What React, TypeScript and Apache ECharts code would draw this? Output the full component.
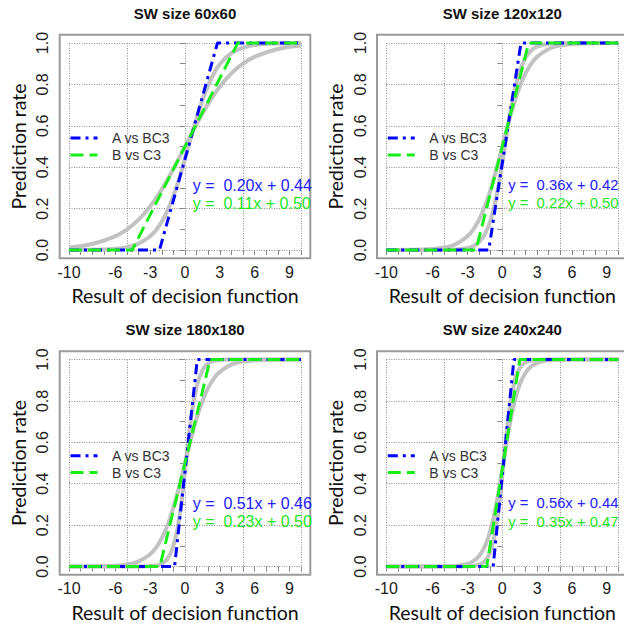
import React, { useEffect, useRef } from "react";
import * as echarts from "echarts";

// ---- data ----
const titles = ["SW size 60x60", "SW size 120x120", "SW size 180x180", "SW size 240x240"];
const seriesNames = ["A vs BC3", "B vs C3"];
const blueEq = ["y =  0.20x + 0.44", "y =  0.36x + 0.42", "y =  0.51x + 0.46", "y =  0.56x + 0.44"];
const greenEq = ["y =  0.11x + 0.50", "y =  0.22x + 0.50", "y =  0.23x + 0.50", "y =  0.35x + 0.47"];
const xTickLabels = [-10, -6, -3, 0, 3, 6, 9];
const yTickLabels = [0, 0.2, 0.4, 0.6, 0.8, 1.0];

// x positions of the gray curve readings
const xs = [-10, -8, -6, -5, -4, -3, -2.5, -2, -1.5, -1, -0.5, 0, 0.5, 1, 1.5, 2, 2.5, 3, 4, 5, 6, 8, 10];
// steeper gray curve (A vs BC3) per panel
const grayA1 = [0.0, 0.001, 0.006, 0.014, 0.031, 0.067, 0.096, 0.137, 0.192, 0.261, 0.345, 0.44, 0.54, 0.636, 0.723, 0.796, 0.853, 0.897, 0.951, 0.977, 0.99, 0.998, 1.0];
const grayA2 = [0, 0, 0.0, 0.001, 0.002, 0.01, 0.019, 0.039, 0.077, 0.147, 0.261, 0.421, 0.599, 0.754, 0.863, 0.928, 0.964, 0.982, 0.996, 0.999, 1, 1, 1];
const grayA3 = [0, 0, 0, 0, 0.0, 0.002, 0.005, 0.014, 0.038, 0.1, 0.235, 0.46, 0.703, 0.868, 0.948, 0.981, 0.993, 0.997, 1, 1, 1, 1, 1];
const grayA4 = [0, 0, 0, 0, 0, 0.001, 0.003, 0.009, 0.027, 0.077, 0.204, 0.44, 0.707, 0.881, 0.958, 0.986, 0.995, 0.998, 1, 1, 1, 1, 1];
// flatter gray curve (B vs C3) per panel
const grayB1 = [0.012, 0.029, 0.067, 0.1, 0.147, 0.211, 0.25, 0.293, 0.341, 0.392, 0.445, 0.5, 0.555, 0.608, 0.659, 0.707, 0.75, 0.789, 0.853, 0.9, 0.933, 0.971, 0.988];
const grayB2 = [0.0, 0.001, 0.005, 0.012, 0.029, 0.067, 0.1, 0.147, 0.211, 0.293, 0.392, 0.5, 0.608, 0.707, 0.789, 0.853, 0.9, 0.933, 0.971, 0.988, 0.995, 0.999, 1.0];
const grayB3 = [0.0, 0.001, 0.004, 0.01, 0.025, 0.06, 0.091, 0.137, 0.201, 0.285, 0.387, 0.5, 0.613, 0.715, 0.799, 0.863, 0.909, 0.94, 0.975, 0.99, 0.996, 0.999, 1.0];
const grayB4 = [0, 0, 0.0, 0.001, 0.003, 0.013, 0.026, 0.051, 0.098, 0.179, 0.306, 0.47, 0.641, 0.782, 0.879, 0.936, 0.967, 0.983, 0.996, 0.999, 1, 1, 1];
const grayA = [grayA1, grayA2, grayA3, grayA4];
const grayB = [grayB1, grayB2, grayB3, grayB4];
// x where the clipped linear fits leave 0 and reach 1
const blueBreaks = [[-2.2, 2.8], [-1.17, 1.61], [-0.9, 1.06], [-0.79, 1.0]];
const greenBreaks = [[-4.55, 4.55], [-2.27, 2.27], [-2.17, 2.17], [-1.34, 1.51]];
const xMin = -10;
const xMax = 10;

// ---- layout / style ----
const PLOT_W = 232;
const PLOT_H = 207;
const PAD_X = 9.3;
const PAD_Y = 8.3;
const panels = [
  { gl: 69, gt: 43, titleTop: 6, eqX: 192.7, eqSize: 16, eqY: [185, 203], legY: [138, 155] },
  { gl: 386.3, gt: 43, titleTop: 6, eqX: 508.2, eqSize: 14.8, eqY: [185, 203], legY: [138, 155] },
  { gl: 69, gt: 359.5, titleTop: 322, eqX: 192.7, eqSize: 16, eqY: [503, 521.5], legY: [455.7, 472.5] },
  { gl: 386.3, gt: 359.5, titleTop: 322, eqX: 508.2, eqSize: 14.8, eqY: [503, 521.5], legY: [455.7, 472.5] },
];
const SANS = '"Liberation Sans", Arial, Helvetica, sans-serif';
const LABEL_FONT = 'Lato, "Noto Sans", sans-serif';
const BLUE = "#0000ff";
const GREEN = "#1aee1a";
const GRAY = "#c2c2c2";
const GRID = "#8c8c8c";
const BLUE_DASH = [10, 5, 3, 5];
const GREEN_DASH = [13, 6];

export default function App() {
  const ref = useRef<HTMLDivElement | null>(null);

  useEffect(() => {
    if (!ref.current) return;
    const chart = echarts.init(ref.current, undefined, { renderer: "svg" });

    const grid: any[] = [];
    const xAxis: any[] = [];
    const yAxis: any[] = [];
    const series: any[] = [];
    const graphic: any[] = [];
    const title: any[] = [];

    panels.forEach((p, i) => {
      grid.push({ left: p.gl, top: p.gt, width: PLOT_W, height: PLOT_H, containLabel: false, outerBoundsMode: "none" });

      xAxis.push({
        type: "value",
        gridIndex: i,
        min: xMin,
        max: xMax,
        interval: 1,
        position: "bottom",
        offset: PAD_Y,
        axisLine: { show: false },
        axisTick: { show: true, length: 5, lineStyle: { color: "#888", width: 1 } },
        axisLabel: {
          margin: 6,
          fontSize: 16,
          fontFamily: SANS,
          color: "#222",
          formatter: (v: number) => {
            const r = Math.round(v);
            return Math.abs(v - r) < 1e-6 && xTickLabels.includes(r) ? String(r) : "";
          },
        },
        splitLine: { show: false },
        name: "Result of decision function",
        nameLocation: "middle",
        nameGap: 27.5,
        nameTextStyle: { fontSize: 19.5, fontFamily: LABEL_FONT, color: "#111" },
      });
      xAxis.push({
        type: "value",
        gridIndex: i,
        min: xMin,
        max: xMax,
        interval: 5,
        position: "bottom",
        axisLine: { show: false },
        axisTick: { show: false },
        axisLabel: { show: false },
        splitLine: { show: true, lineStyle: { color: GRID, width: 1, type: [1, 1.5] } },
      });

      yAxis.push({
        type: "value",
        gridIndex: i,
        min: 0,
        max: 1,
        interval: 0.1,
        position: "left",
        offset: PAD_X,
        axisLine: { show: false },
        axisTick: { show: true, length: 5, lineStyle: { color: "#888", width: 1 } },
        axisLabel: {
          rotate: 90,
          margin: 9,
          fontSize: 16,
          fontFamily: SANS,
          color: "#222",
          formatter: (v: number) => {
            const hit = yTickLabels.some((t) => Math.abs(t - v) < 1e-6);
            return hit ? v.toFixed(1) : "";
          },
        },
        splitLine: { show: false },
        name: "Prediction rate",
        nameLocation: "middle",
        nameGap: 31.5,
        nameTextStyle: { fontSize: 19.5, fontFamily: LABEL_FONT, color: "#111" },
      });
      yAxis.push({
        type: "value",
        gridIndex: i,
        min: 0,
        max: 1,
        interval: 0.2,
        position: "left",
        axisLine: { show: false },
        axisTick: { show: false },
        axisLabel: { show: false },
        splitLine: { show: true, lineStyle: { color: GRID, width: 1, type: [1, 1.5] } },
      });

      const xi = 2 * i;
      const yi = 2 * i;
      const base = {
        type: "line",
        xAxisIndex: xi,
        yAxisIndex: yi,
        symbol: "none",
        showSymbol: false,
        clip: false,
        silent: true,
      };
      series.push({
        ...base,
        data: xs.map((x, j) => [x, grayA[i][j]]),
        smooth: 0.5,
        lineStyle: { color: GRAY, width: 4 },
        z: 2,
      });
      series.push({
        ...base,
        data: xs.map((x, j) => [x, grayB[i][j]]),
        smooth: 0.5,
        lineStyle: { color: GRAY, width: 4 },
        z: 2,
      });
      series.push({
        ...base,
        name: seriesNames[0],
        data: [[xMin, 0], [blueBreaks[i][0], 0], [blueBreaks[i][1], 1], [xMax, 1]],
        lineStyle: { color: BLUE, width: 3, type: BLUE_DASH },
        z: 3,
      });
      series.push({
        ...base,
        name: seriesNames[1],
        data: [[xMin, 0], [greenBreaks[i][0], 0], [greenBreaks[i][1], 1], [xMax, 1]],
        lineStyle: { color: GREEN, width: 3, type: GREEN_DASH },
        z: 4,
      });

      title.push({
        text: titles[i],
        left: p.gl + PLOT_W / 2,
        top: p.titleTop,
        textAlign: "center",
        padding: 0,
        textStyle: { fontSize: 15, fontWeight: "bold", color: "#111", fontFamily: SANS },
      });

      // plot frame
      graphic.push({
        type: "rect",
        silent: true,
        z: 10,
        shape: { x: p.gl - PAD_X, y: p.gt - PAD_Y, width: PLOT_W + 2 * PAD_X, height: PLOT_H + 2 * PAD_Y },
        style: { fill: "none", stroke: "#9a9a9a", lineWidth: 2 },
      });
      // legend
      const legStyles = [
        { stroke: BLUE, lineDash: BLUE_DASH },
        { stroke: GREEN, lineDash: GREEN_DASH },
      ];
      seriesNames.forEach((nm, k) => {
        graphic.push({
          type: "line",
          silent: true,
          z: 10,
          shape: { x1: p.gl + 1.5, y1: p.legY[k], x2: p.gl + 28.5, y2: p.legY[k] },
          style: { stroke: legStyles[k].stroke, lineWidth: 3, lineDash: legStyles[k].lineDash },
        });
        graphic.push({
          type: "text",
          silent: true,
          z: 10,
          x: p.gl + 43,
          y: p.legY[k],
          style: { text: nm, fill: "#333", fontSize: 14, fontFamily: SANS, verticalAlign: "middle", align: "left" },
        });
      });
      // equations
      graphic.push({
        type: "text",
        silent: true,
        z: 10,
        x: p.eqX,
        y: p.eqY[0],
        style: { text: blueEq[i], fill: "#2020ff", fontSize: p.eqSize, fontFamily: SANS, verticalAlign: "middle", align: "left" },
      });
      graphic.push({
        type: "text",
        silent: true,
        z: 10,
        x: p.eqX,
        y: p.eqY[1],
        style: { text: greenEq[i], fill: "#22e622", fontSize: p.eqSize, fontFamily: SANS, verticalAlign: "middle", align: "left" },
      });
    });

    chart.setOption({
      animation: false,
      backgroundColor: "#ffffff",
      title,
      grid,
      xAxis,
      yAxis,
      series,
      graphic,
    });

    return () => {
      chart.dispose();
    };
  }, []);

  return (
    <div
      ref={ref}
      style={{ position: "fixed", left: 0, top: 0, width: 624, height: 623, background: "#fff" }}
    />
  );
}
